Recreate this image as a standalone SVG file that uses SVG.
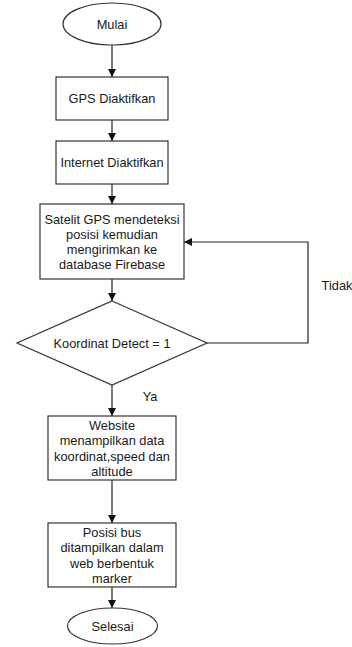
<svg xmlns="http://www.w3.org/2000/svg" width="352" height="647" viewBox="0 0 352 647">
<style>
.s{fill:#fff;stroke:#333;stroke-width:1.2}
.c{fill:none;stroke:#222;stroke-width:1.2}
text{font-family:"Liberation Sans",Arial,sans-serif;font-size:12.8px;fill:#1a1a1a;text-anchor:middle}
</style>
<defs>
<marker id="a" viewBox="0 0 10 10" refX="10" refY="5" markerWidth="8" markerHeight="8" markerUnits="userSpaceOnUse" orient="auto">
<path d="M0,0 L10,5 L0,10 Z" fill="#111"/>
</marker>
</defs>
<rect width="352" height="647" fill="#fff"/>
<g id="connectors">
<line class="c" x1="112" y1="45" x2="112" y2="77" marker-end="url(#a)"/>
<line class="c" x1="112" y1="120" x2="112" y2="141" marker-end="url(#a)"/>
<line class="c" x1="112" y1="184" x2="112" y2="204" marker-end="url(#a)"/>
<line class="c" x1="112" y1="279" x2="112" y2="301" marker-end="url(#a)"/>
<polyline class="c" points="207,343 308,343 308,242 184,242" marker-end="url(#a)"/>
<line class="c" x1="112" y1="385" x2="112" y2="416" marker-end="url(#a)"/>
<line class="c" x1="112" y1="480" x2="112" y2="523" marker-end="url(#a)"/>
<line class="c" x1="112" y1="587" x2="112" y2="608" marker-end="url(#a)"/>
<text x="337" y="289.5">Tidak</text>
<text x="150" y="400.5">Ya</text>
</g>
<g id="mulai">
<ellipse class="s" cx="112" cy="24" rx="49" ry="21"/>
<text x="112" y="28.5">Mulai</text>
</g>
<g id="gps">
<rect class="s" x="56" y="77" width="112" height="43"/>
<text x="112" y="103">GPS Diaktifkan</text>
</g>
<g id="internet">
<rect class="s" x="56" y="141" width="112" height="43"/>
<text x="112" y="167">Internet Diaktifkan</text>
</g>
<g id="satelit">
<rect class="s" x="40" y="204" width="144" height="75"/>
<text x="112" y="224">Satelit GPS mendeteksi</text>
<text x="112" y="239">posisi kemudian</text>
<text x="112" y="254">mengirimkan ke</text>
<text x="112" y="269">database Firebase</text>
</g>
<g id="decision">
<polygon class="s" points="112,301 207,343 112,385 17,343"/>
<text x="112" y="347.5">Koordinat Detect = 1</text>
</g>
<g id="website">
<rect class="s" x="48" y="416" width="128" height="64"/>
<text x="112" y="429.5">Website</text>
<text x="112" y="445">menampilkan data</text>
<text x="112" y="460.5">koordinat,speed dan</text>
<text x="112" y="476">altitude</text>
</g>
<g id="posisi">
<rect class="s" x="48" y="523" width="128" height="64"/>
<text x="112" y="536.5">Posisi bus</text>
<text x="112" y="552">ditampilkan dalam</text>
<text x="112" y="567.5">web berbentuk</text>
<text x="112" y="583">marker</text>
</g>
<g id="selesai">
<ellipse class="s" cx="112.5" cy="626" rx="45" ry="18"/>
<text x="112.5" y="630.5">Selesai</text>
</g>
</svg>
